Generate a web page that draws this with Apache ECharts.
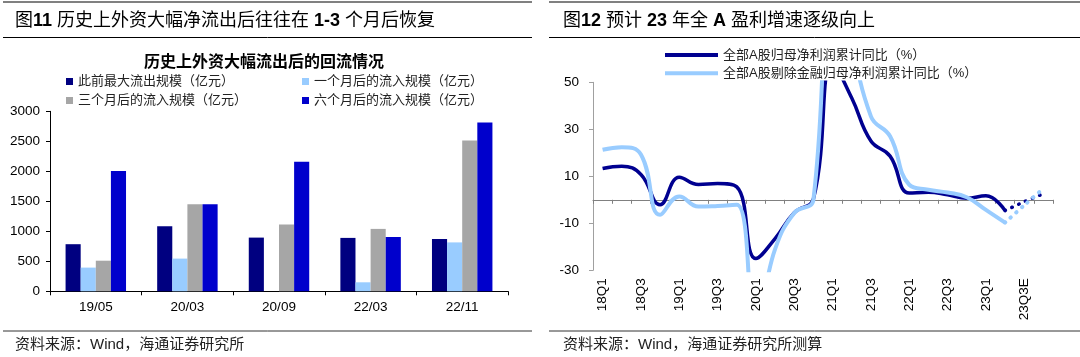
<!DOCTYPE html>
<html>
<head>
<meta charset="utf-8">
<script src="https://cdn.jsdelivr.net/npm/echarts@6/dist/echarts.min.js"></script>
<style>
html,body{margin:0;padding:0;background:#fff;}
#c{width:1080px;height:357px;}
</style>
</head>
<body>
<div id="c"></div>
<script>
// ---- Left chart data ----
const barCats = ['19/05', '20/03', '20/09', '22/03', '22/11'];
const barNames = ['此前最大流出规模（亿元）', '一个月后的流入规模（亿元）', '三个月后的流入规模（亿元）', '六个月后的流入规模（亿元）'];
const prevOut = [785, 1085, 895, 890, 870];
const in1m = [395, 545, null, 150, 815];
const in3m = [510, 1450, 1115, 1040, 2515];
const in6m = [2005, 1450, 2160, 905, 2815];
const barTicks = [0, 3000, 500];

// ---- Right chart data ----
const qCats = ['18Q1','18Q2','18Q3','18Q4','19Q1','19Q2','19Q3','19Q4','20Q1','20Q2','20Q3','20Q4',
               '21Q1','21Q2','21Q3','21Q4','22Q1','22Q2','22Q3','22Q4','23Q1','23Q2','23Q3E','23Q4E'];
const lineNames = ['全部A股归母净利润累计同比（%）', '全部A股剔除金融归母净利润累计同比（%）'];
const allA = [13.3, 14.3, 10.8, -2.1, 9.6, 6.5, 6.9, 5.5, -25, -16.5, -5.5, 0.4,
              58, 43.3, 25, 18.6, 2.9, 3.2, 2.1, 0.7, 1.7, -4.6, null, null];
const allAEst = [null, null, null, null, null, null, null, null, null, null, null, null,
                 null, null, null, null, null, null, null, null, null, -4.6, -0.8, 2.6];
const exFin = [21.3, 22.4, 19.3, -6.4, 1.4, -2.9, -2.6, -2.1, -52, -21, -5.6, 0,
               135, 72, 35.5, 27, 6.4, 4.3, 3.1, 1.1, -4.3, -9.7, null, null];
const exFinEst = [null, null, null, null, null, null, null, null, null, null, null, null,
                  null, null, null, null, null, null, null, null, null, -9.7, -2.3, 4.8];
const lineTicks = [-30, 50, 20];

const CJK = '"Liberation Sans", "Noto Sans CJK SC", sans-serif';
const LAT = '"Liberation Sans", sans-serif';
const C_DARK = '#000080', C_LIGHT = '#99CCFF', C_GRAY = '#A6A6A6', C_BLUE = '#0000CC';
const L_DARK = '#000090', L_LIGHT = '#99CCFF';

const chart = echarts.init(document.getElementById('c'), null, {renderer: 'canvas'});

function rule(x1, x2, y, w, color) {
  return {type: 'line', silent: true, shape: {x1: x1, y1: y, x2: x2, y2: y},
          style: {stroke: color, lineWidth: w}};
}
function txt(x, y, text, size, opts) {
  return {type: 'text', silent: true, x: x, y: y,
    style: Object.assign({text: text, fontSize: size, fontFamily: CJK, fill: '#000',
      textVerticalAlign: 'middle', textAlign: 'left'}, opts || {})};
}

const richB = {b: {fontWeight: 'bold', fontSize: 18, fontFamily: LAT, fill: '#000'}};
const plainNum = function (v) { return String(v); };

const option = {
  animation: false,
  backgroundColor: '#fff',
  graphic: [
    rule(3, 532, 2, 2, '#808080'),
    rule(3, 532, 37.5, 1, '#000'),
    rule(3, 532, 331, 1, '#333'),
    rule(549, 1080, 2, 2, '#808080'),
    rule(549, 1080, 37.5, 1, '#000'),
    rule(549, 1080, 331, 1, '#333'),
    txt(15, 21, '图{b|11} 历史上外资大幅净流出后往往在 {b|1-3} 个月后恢复', 18, {rich: richB}),
    txt(563, 21, '图{b|12} 预计 {b|23} 年全 {b|A} 盈利增速逐级向上', 18, {rich: richB}),
    txt(264, 63, '历史上外资大幅流出后的回流情况', 16, {textAlign: 'center', fontWeight: 'bold'}),
    txt(15, 345, '资料来源：Wind，海通证券研究所', 15, {fill: '#222'}),
    txt(563, 345, '资料来源：Wind，海通证券研究所测算', 15, {fill: '#222'})
  ],
  legend: [
    {data: [barNames[0], barNames[2]], orient: 'vertical', left: 66, top: 75, padding: 0,
     itemWidth: 7, itemHeight: 7, itemGap: 6, icon: 'rect',
     textStyle: {fontSize: 13, fontFamily: CJK, color: '#222', lineHeight: 13}},
    {data: [barNames[1], barNames[3]], orient: 'vertical', left: 302, top: 75, padding: 0,
     itemWidth: 7, itemHeight: 7, itemGap: 6, icon: 'rect',
     textStyle: {fontSize: 13, fontFamily: CJK, color: '#222', lineHeight: 13}},
    {data: lineNames, orient: 'vertical', left: 665, top: 48.5, padding: 0,
     itemWidth: 53, itemHeight: 4, itemGap: 5.3, icon: 'rect',
     textStyle: {fontSize: 13, fontFamily: CJK, color: '#222', lineHeight: 13}}
  ],
  grid: [
    {left: 50, top: 111.3, width: 458, height: 180},
    {left: 593, top: 82.3, width: 460, height: 188}
  ],
  xAxis: [
    {gridIndex: 0, type: 'category', data: barCats,
     axisLine: {lineStyle: {color: '#000', width: 1}},
     axisTick: {show: true, length: 4, lineStyle: {color: '#000'}},
     axisLabel: {margin: 9, fontSize: 13.5, color: '#000', fontFamily: LAT},
     splitLine: {show: false}},
    {gridIndex: 1, type: 'category', data: qCats, boundaryGap: true,
     axisLine: {onZero: true, lineStyle: {color: '#808080', width: 1}},
     axisTick: {show: true, length: 4, interval: 0, lineStyle: {color: '#808080'}},
     axisLabel: {show: false}, splitLine: {show: false}},
    {gridIndex: 1, type: 'category', data: qCats, boundaryGap: true, position: 'bottom',
     axisLine: {show: false, onZero: false}, axisTick: {show: false},
     axisLabel: {show: true, rotate: 90, interval: 1, margin: 8, fontSize: 13.5, color: '#000',
                 fontFamily: LAT},
     splitLine: {show: false}}
  ],
  yAxis: [
    {gridIndex: 0, type: 'value', min: barTicks[0], max: barTicks[1], interval: barTicks[2],
     axisLine: {show: true, lineStyle: {color: '#000'}},
     axisTick: {show: true, length: 4, lineStyle: {color: '#000'}},
     axisLabel: {margin: 10, fontSize: 13.5, color: '#000', fontFamily: LAT, formatter: plainNum},
     splitLine: {show: false}},
    {gridIndex: 1, type: 'value', min: lineTicks[0], max: lineTicks[1], interval: lineTicks[2],
     axisLine: {show: true, lineStyle: {color: '#A0A0A0'}},
     axisTick: {show: true, length: 4, lineStyle: {color: '#A0A0A0'}},
     axisLabel: {margin: 14, fontSize: 13.5, color: '#000', fontFamily: LAT, formatter: plainNum},
     splitLine: {show: false}}
  ],
  series: [
    {name: barNames[0], type: 'bar', xAxisIndex: 0, yAxisIndex: 0, data: prevOut,
     itemStyle: {color: C_DARK}, barGap: '0%', barCategoryGap: '34%'},
    {name: barNames[1], type: 'bar', xAxisIndex: 0, yAxisIndex: 0, data: in1m,
     itemStyle: {color: C_LIGHT}, barGap: '0%', barCategoryGap: '34%'},
    {name: barNames[2], type: 'bar', xAxisIndex: 0, yAxisIndex: 0, data: in3m,
     itemStyle: {color: C_GRAY}, barGap: '0%', barCategoryGap: '34%'},
    {name: barNames[3], type: 'bar', xAxisIndex: 0, yAxisIndex: 0, data: in6m,
     itemStyle: {color: C_BLUE}, barGap: '0%', barCategoryGap: '34%'},
    {name: lineNames[0], type: 'line', xAxisIndex: 1, yAxisIndex: 1, data: allA,
     symbol: 'none', smooth: 0.45, clip: true, z: 3,
     lineStyle: {color: L_DARK, width: 3.5}, itemStyle: {color: L_DARK}},
    {name: lineNames[1], type: 'line', xAxisIndex: 1, yAxisIndex: 1, data: exFin,
     symbol: 'none', smooth: 0.45, clip: true, z: 4,
     lineStyle: {color: L_LIGHT, width: 4}, itemStyle: {color: L_LIGHT}},
    {name: 'allA_est', type: 'line', xAxisIndex: 1, yAxisIndex: 1, data: allAEst,
     symbol: 'none', smooth: 0.3, clip: true, z: 3,
     lineStyle: {color: L_DARK, width: 3.5, type: [0.5, 7], cap: 'round'}},
    {name: 'exFin_est', type: 'line', xAxisIndex: 1, yAxisIndex: 1, data: exFinEst,
     symbol: 'none', smooth: 0.3, clip: true, z: 4,
     lineStyle: {color: L_LIGHT, width: 4, type: [0.5, 7], cap: 'round'}}
  ]
};
chart.setOption(option);
</script>
</body>
</html>
